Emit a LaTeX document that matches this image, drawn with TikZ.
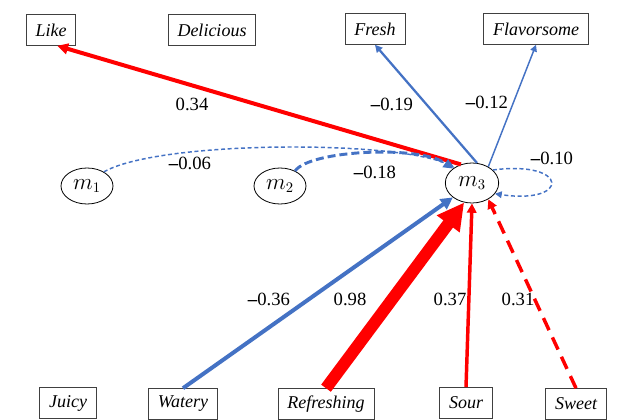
\documentclass[tikz,border=0pt]{standalone}
\usepackage{fontspec}
\setmainfont{Liberation Serif}
\usetikzlibrary{arrows.meta,shapes.geometric}
\definecolor{posred}{HTML}{FF0000}
\definecolor{negblue}{HTML}{4472C4}
\tikzset{
  attr/.style  ={rectangle, draw=black!75, line width=0.7pt, minimum height=23pt,
                 inner xsep=7pt, inner ysep=0pt, font=\fontsize{13.5}{16}\selectfont\itshape},
  latent/.style={ellipse, draw=black, line width=0.6pt, minimum width=39pt,
                 minimum height=27pt, inner sep=0pt, font=\fontsize{16}{18}\selectfont},
  coef/.style  ={font=\fontsize{14}{16}\selectfont, inner sep=1pt},
  posarc/.style={draw=posred},
  negarc/.style={draw=negblue},
  % arrow head of a given size, solid even on dashed paths
  hd/.style    ={-{Triangle[length=#1, width=#1]}},
}
\newcommand{\mns}{\textbf{–}}

\begin{document}
\begin{tikzpicture}[x=0.75pt, y=-0.75pt]
\useasboundingbox (0,0) rectangle (617,420);
% --- attribute boxes, top row ---
\node[attr] (like) at (51,30)  {Like};
\node[attr] (deli) at (212,30) {Delicious};
\node[attr] (fresh) at (375,29) {Fresh};
\node[attr] (flav) at (536,29) {Flavorsome};
% --- latent variables ---
\node[latent] (m1) at (87,186)  {$m_1$};
\node[latent] (m2) at (280,186) {$m_2$};
\node[latent, minimum width=40pt, minimum height=30pt] (m3) at (472,183) {$m_3$};
% --- attribute boxes, bottom row ---
\node[attr] (juicy) at (68,403)  {Juicy};
\node[attr] (watery) at (183,404) {Watery};
\node[attr] (refr) at (326,404) {Refreshing};
\node[attr] (sour) at (466,403) {Sour};
\node[attr] (sweet) at (576,404) {Sweet};
% --- outgoing paths ---
\draw[posarc, line width=3pt, hd=8pt] (m3.121) -- (like.-68);
\draw[negarc, line width=1.7pt, hd=5.5pt] (m3.76) -- (fresh.south);
\draw[negarc, line width=1.1pt, hd=5pt] (m3.45) -- (flav.south);
% --- paths between latent variables ---
\draw[negarc, line width=1.1pt, dash pattern=on 3pt off 2pt, hd=5pt]
  (m1.40) .. controls (160,140) and (400,140) .. (m3.139);
\draw[negarc, line width=2.2pt, dash pattern=on 6pt off 3pt, hd=7pt]
  (m2.45) .. controls (310,150) and (420,145) .. (m3.143);
\draw[negarc, line width=1.1pt, dash pattern=on 3pt off 2pt, hd=5pt]
  (m3.32) .. controls (570,160) and (570,205) .. (m3.-25);
% --- incoming paths ---
\draw[negarc, line width=3pt, hd=9pt] (watery.north) -- (m3.217);
\draw[posarc, line width=9pt, hd=20pt] (refr.north) -- (m3.248);
\draw[posarc, line width=2.6pt, hd=7pt] (sour.north) -- (m3.270);
\draw[posarc, line width=2.6pt, dash pattern=on 10pt off 6pt, hd=7pt] (sweet.north) -- (m3.-45);
% --- coefficients ---
\node[coef] (c34) at (192,104) {0.34};
\node[coef] (c06) at (190,163) {\mns0.06};
\node[coef] (c19) at (392,104) {\mns0.19};
\node[coef] (c12) at (487,102) {\mns0.12};
\node[coef] (c18) at (375,172) {\mns0.18};
\node[coef] (c10) at (552,158) {\mns0.10};
\node[coef] (c36) at (269,299) {\mns0.36};
\node[coef] (c98) at (350,299) {0.98};
\node[coef] (c37) at (450,299) {0.37};
\node[coef] (c31) at (518,299) {0.31};
\end{tikzpicture}
\end{document}
